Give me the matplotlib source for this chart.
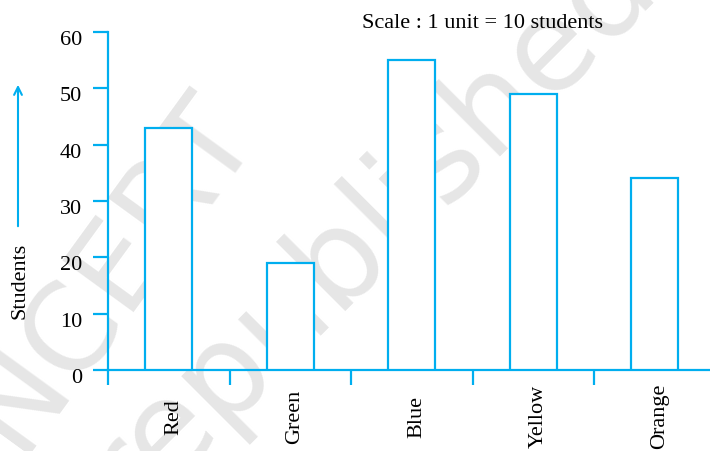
import matplotlib.pyplot as plt
from matplotlib.patches import FancyArrowPatch
from matplotlib.transforms import ScaledTranslation

plt.rcParams['font.family'] = ['Liberation Serif', 'DejaVu Serif']

colours = ['Red', 'Green', 'Blue', 'Yellow', 'Orange']
students = [43, 19, 55, 49, 34]
y_ticks = [0, 10, 20, 30, 40, 50, 60]

line_col = '#00aeef'

fig = plt.figure(figsize=(7.1, 4.52), dpi=100)
ax = fig.add_axes([108 / 710, 1 - 371 / 452, 602 / 710, 338 / 452])

# faint watermark behind everything
fig.text(0.155, 0.40, 'NCERT', fontsize=88, color='#e6e6e6', rotation=54,
         ha='center', va='center', family='DejaVu Sans', zorder=-1)
fig.text(0.52, 0.50, 'republished', fontsize=92, color='#e6e6e6', rotation=45,
         ha='center', va='center', family='DejaVu Sans', zorder=-1)
ax.patch.set_alpha(0)

pos = [i + 0.5 for i in range(len(colours))]
ax.bar(pos, students, width=0.39, facecolor='white', edgecolor=line_col, linewidth=1.6, zorder=3)

ax.set_xlim(0, 602 / 121.5)
ax.set_ylim(0, 60)
ax.set_yticks(y_ticks)
ax.set_xticks(range(len(colours)))
ax.set_xticklabels([])

for s in ['top', 'right']:
    ax.spines[s].set_visible(False)
for s in ['left', 'bottom']:
    ax.spines[s].set_color(line_col)
    ax.spines[s].set_linewidth(1.6)
ax.tick_params(axis='both', which='major', color=line_col, width=1.6, length=10.5,
               labelsize=16, pad=8)

shift = ScaledTranslation(0, -5 / 100, fig.dpi_scale_trans)
for lbl in ax.get_yticklabels():
    lbl.set_transform(lbl.get_transform() + shift)

for p, c in zip(pos, colours):
    ax.text(p + 0.04, -0.135, c, transform=ax.get_xaxis_transform(), rotation=90,
            ha='center', va='center', fontsize=16, clip_on=False)

fig.text(20 / 710, 1 - 281 / 452, 'Students', rotation=90, ha='center', va='center', fontsize=16)
fig.patches.append(FancyArrowPatch(
    (18 / 710, 1 - 230 / 452), (18 / 710, 1 - 83 / 452), transform=fig.transFigure,
    arrowstyle='->', mutation_scale=14, color=line_col, linewidth=1.5))

fig.text(483 / 710, 1 - 24 / 452, 'Scale : 1 unit = 10 students', ha='center', va='center', fontsize=16)

fig.savefig('out.png', dpi=100)
